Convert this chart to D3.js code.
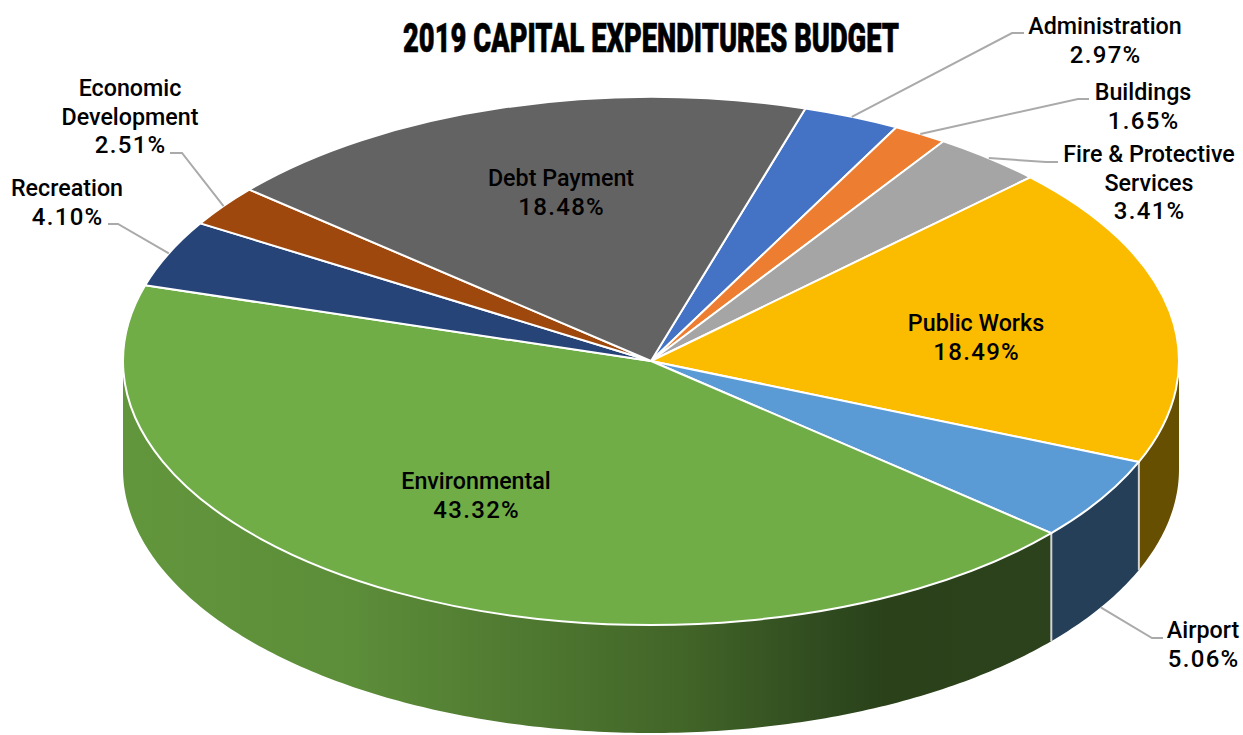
<!DOCTYPE html>
<html><head><meta charset="utf-8">
<script src="https://cdn.jsdelivr.net/npm/d3@7/dist/d3.min.js"></script>
<style>
html,body{margin:0;padding:0;background:#fff}
svg{display:block}
text{font-family:Roboto,"Liberation Sans",sans-serif;fill:#000;text-anchor:middle}
</style></head><body>
<svg id="c" width="1243" height="735"></svg>
<script>
const categories=["Administration","Buildings","Fire & Protective Services","Public Works","Airport","Environmental","Recreation","Economic Development","Debt Payment"];
const values=[2.97,1.65,3.41,18.49,5.06,43.32,4.10,2.51,18.48];
const topColors=["#4472c4","#ed7d31","#a5a5a5","#fbbc00","#5b9bd5","#70ad47","#264478","#9e480e","#636363"];
const wallColors=["#2d4c83","#9e5420","#6e6e6e","#664f00","#253f58","url(#envWall)","#192d50","#693009","#424242"];
const labelLines=[["Administration"],["Buildings"],["Fire & Protective","Services"],["Public Works"],["Airport"],["Environmental"],["Recreation"],["Economic","Development"],["Debt Payment"]];
const labelCenters=[[1105,34],[1143,100],[1149,162],[976,331],[1203,638],[476,489],[67,196],[130,96],[561,186]];
const leaderElbows=[[[1012,33],[1024,33]],[[1078,99],[1089,99]],[[1046,162],[1058,162]],null,[[1152,638],[1163,638]],null,[[118,224],[108,224]],[[182,153],[170,153]],null];
const titleText="2019 CAPITAL EXPENDITURES BUDGET";

const cx=651,cy=361,rx=528,ry=264,depth=108,startDeg=17;
const svg=d3.select("#c");
const defs=svg.append("defs");
const g=defs.append("linearGradient").attr("id","envWall").attr("gradientUnits","userSpaceOnUse")
 .attr("x1",124).attr("x2",1052).attr("y1",0).attr("y2",0);
[[0,"#62963c"],[0.25,"#5c8d39"],[0.42,"#507a31"],[0.6,"#426528"],[0.76,"#2f4a1f"],[0.82,"#2a411a"],[1,"#2c421c"]]
 .forEach(s=>g.append("stop").attr("offset",s[0]).attr("stop-color",s[1]));

const a0=startDeg*Math.PI/180;
const pie=d3.pie().sort(null).value(d=>d).startAngle(a0).endAngle(a0+2*Math.PI);
const arcs=pie(values);
const px=a=>cx+rx*Math.sin(a), py=a=>cy-ry*Math.cos(a);

// walls
const line=d3.line();
const Q=Math.PI/2;
arcs.forEach((d,i)=>{
  const s=Math.max(d.startAngle,Q), e=Math.min(d.endAngle,3*Q);
  if(e<=s) return;
  const n=Math.max(4,Math.ceil((e-s)*80));
  const as=d3.range(n+1).map(k=>s+(e-s)*k/n);
  const pts=as.map(a=>[px(a),py(a)]).concat(as.slice().reverse().map(a=>[px(a),py(a)+depth]));
  svg.append("path").attr("d",line(pts)+"Z").attr("fill",wallColors[i]);
});
// vertical separators
arcs.forEach(d=>{
  const a=d.startAngle;
  if(a>Q&&a<3*Q) svg.append("line").attr("x1",px(a)).attr("x2",px(a)).attr("y1",py(a)).attr("y2",py(a)+depth)
    .attr("stroke","#d4d4d4").attr("stroke-width",2);
});
// top face
const arc=d3.arc().innerRadius(0).outerRadius(rx);
const topFace=svg.append("g").attr("transform",`translate(${cx},${cy}) scale(1,${ry/rx})`);
topFace.selectAll("path").data(arcs).join("path").attr("d",arc).attr("fill",(d,i)=>topColors[i])
 .attr("stroke","#fff").attr("stroke-width",2).attr("vector-effect","non-scaling-stroke").attr("stroke-linejoin","round");

// leaders
arcs.forEach((d,i)=>{
  if(!leaderElbows[i]) return;
  const m=(d.startAngle+d.endAngle)/2;
  const p0=[px(m),py(m)+(i===4?depth:0)];
  svg.append("path").attr("d",line([p0,...leaderElbows[i]])).attr("fill","none").attr("stroke","#aaaaaa").attr("stroke-width",2);
});

// labels
function putName(str,x,y){
  svg.append("text").attr("transform",`translate(${x},${y}) scale(0.97,1)`).attr("font-size",24).attr("font-weight",500).text(str);
}
function putPct(str,x,y){
  svg.append("text").attr("x",x+0.7).attr("y",y).attr("font-size",24).attr("font-weight",500)
    .attr("letter-spacing",1.3).text(str);
}
categories.forEach((c,i)=>{
  const [x,y]=labelCenters[i];
  labelLines[i].forEach((s,k)=>putName(s,x,y+k*28.5));
  putPct(values[i].toFixed(2)+"%",x,y+labelLines[i].length*28.5);
});
// title
const title=svg.append("text").attr("font-size",40).attr("font-weight",900)
 .attr("stroke","#000").attr("stroke-width",0.6).text(titleText);
const natural=title.node().getComputedTextLength();
title.attr("transform",`translate(651,52) scale(${496/natural},1)`);
</script>
</body></html>
